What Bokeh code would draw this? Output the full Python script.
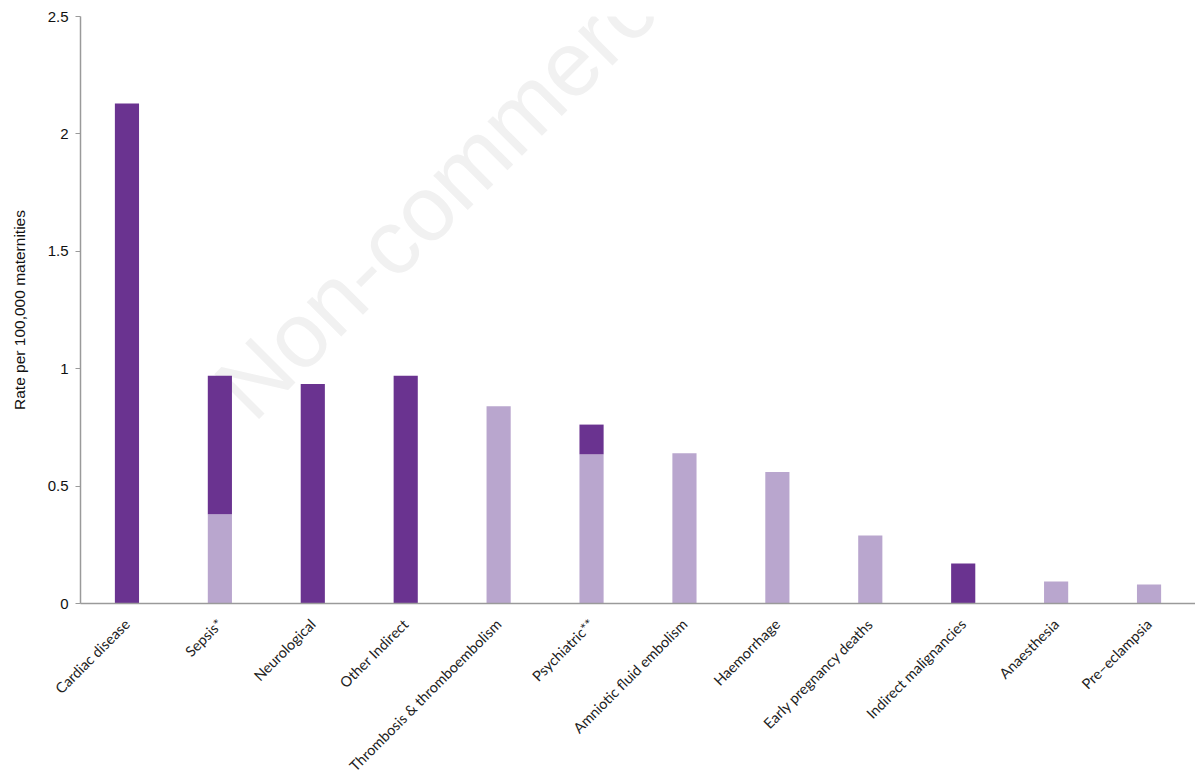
import math
from bokeh.plotting import figure
from bokeh.models import Range1d, FactorRange, Label, FixedTicker
from bokeh.embed import file_html
from bokeh.resources import INLINE

categories = ["Cardiac disease", "Sepsis*", "Neurological", "Other Indirect",
              "Thrombosis & thromboembolism", "Psychiatric**", "Amniotic fluid embolism",
              "Haemorrhage", "Early pregnancy deaths", "Indirect malignancies",
              "Anaesthesia", "Pre\u2013eclampsia"]
direct = [0.0, 0.38, 0.0, 0.0, 0.84, 0.635, 0.64, 0.56, 0.29, 0.0, 0.094, 0.081]
indirect = [2.13, 0.59, 0.935, 0.97, 0.0, 0.127, 0.0, 0.0, 0.0, 0.17, 0.0, 0.0]
y_ticks = [0, 0.5, 1, 1.5, 2, 2.5]
y_tick_labels = ["0", "0.5", "1", "1.5", "2", "2.5"]

LIGHT = "#b9a6ce"
DARK = "#6a3390"

p = figure(x_range=FactorRange(*categories, range_padding=0),
           y_range=Range1d(0, 2.5),
           frame_width=1115, frame_height=587,
           min_border_left=80, min_border_right=0, min_border_top=16,
           output_backend="svg", toolbar_location=None,
           background_fill_color="white", border_fill_color="white")
p.outline_line_color = None
p.xgrid.grid_line_color = None
p.ygrid.grid_line_color = None

# watermark
wm = Label(x=1.62, y=0.86, text="Non-commercial", angle=45, angle_units="deg",
           text_font="Liberation Sans", text_font_size="92px",
           text_color="#f1f1f1", text_align="left", text_baseline="alphabetic",
           level="underlay")
p.add_layout(wm)

data = {"cat": categories, "direct": direct, "indirect": indirect}
p.vbar_stack(["direct", "indirect"], x="cat", width=0.26, source=data,
             color=[LIGHT, DARK], line_color=None)

# y axis
p.yaxis.ticker = FixedTicker(ticks=y_ticks)
p.yaxis.major_label_overrides = {t: l for t, l in zip(y_ticks, y_tick_labels)}
p.yaxis.axis_label = "Rate per 100,000 maternities"
p.yaxis.axis_label_text_font = "Liberation Sans"
p.yaxis.axis_label_text_font_style = "normal"
p.yaxis.axis_label_text_font_size = "15.5px"
p.yaxis.axis_label_text_color = "#111111"
p.yaxis.axis_label_standoff = 17
p.yaxis.major_label_text_font = "Liberation Sans"
p.yaxis.major_label_text_font_size = "15px"
p.yaxis.major_label_text_color = "#111111"
p.yaxis.major_label_standoff = 7
p.yaxis.major_tick_out = 5
p.yaxis.major_tick_in = 0
p.yaxis.minor_tick_out = 0
p.yaxis.minor_tick_in = 0
p.yaxis.axis_line_color = "#9a9a9a"
p.yaxis.axis_line_width = 1.5
p.yaxis.major_tick_line_color = "#9a9a9a"

# x axis
p.xaxis.major_label_orientation = math.pi / 4
p.xaxis.major_label_text_font = "Lato"
p.xaxis.major_label_text_font_size = "14.5px"
p.xaxis.major_label_text_color = "#222222"
p.xaxis.major_label_standoff = 12
p.xaxis.major_tick_line_color = None
p.xaxis.axis_line_color = "#9a9a9a"
p.xaxis.axis_line_width = 1.5

open("out.html", "w").write(file_html(p, INLINE))
